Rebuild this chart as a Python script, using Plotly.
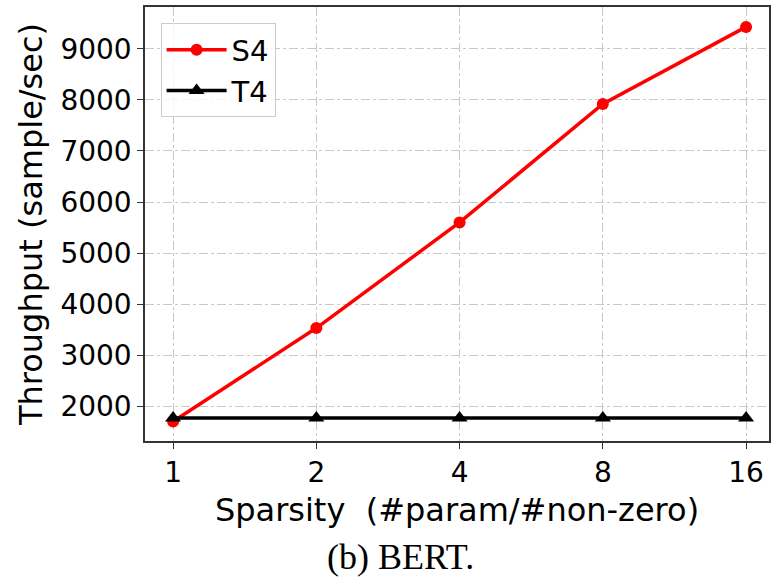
import plotly.graph_objects as go

sparsity = ["1", "2", "4", "8", "16"]
s4 = [1700, 3530, 5600, 7920, 9430]
t4 = [1770, 1770, 1770, 1770, 1770]
y_ticks = [2000, 3000, 4000, 5000, 6000, 7000, 8000, 9000]

xi = list(range(len(sparsity)))

fig = go.Figure()
fig.add_trace(go.Scatter(x=xi, y=s4, name="S4", mode="lines+markers",
                         line=dict(color="#ff0000", width=3.5),
                         marker=dict(symbol="circle", size=12, color="#ff0000")))
fig.add_trace(go.Scatter(x=xi, y=t4, name="T4", mode="lines+markers",
                         line=dict(color="#000000", width=3.5),
                         marker=dict(symbol="triangle-up", size=14, color="#000000")))

font = "DejaVu Sans"
fig.update_layout(
    width=776, height=580,
    margin=dict(l=145, r=7, t=5, b=139),
    paper_bgcolor="white", plot_bgcolor="white",
    font=dict(family=font, color="black", size=28),
    showlegend=True,
    legend=dict(x=0.025, y=0.962, xanchor="left", yanchor="top",
                bgcolor="rgba(255,255,255,0.8)", bordercolor="#cccccc", borderwidth=1,
                font=dict(size=29, family=font), itemwidth=60, tracegroupgap=0,
                entrywidth=135, entrywidthmode="pixels"),
    xaxis=dict(range=[-0.196, 4.16], tickmode="array", tickvals=xi, ticktext=sparsity,
               showgrid=True, gridcolor="#c8c8c8", griddash="dashdot", gridwidth=1,
               showline=True, linecolor="#333333", linewidth=1.5, mirror=True,
               ticks="outside", ticklen=6, tickcolor="#333333", zeroline=False,
               tickfont=dict(size=28),
               title=dict(text="Sparsity  (#param/#non-zero)", font=dict(size=32), standoff=10)),
    yaxis=dict(range=[1318, 9820], tickmode="array", tickvals=y_ticks,
               showgrid=True, gridcolor="#c8c8c8", griddash="dashdot", gridwidth=1,
               showline=True, linecolor="#333333", linewidth=1.5, mirror=True,
               ticks="outside", ticklen=6, tickcolor="#333333", zeroline=False,
               tickfont=dict(size=28),
               title=dict(text="Throughput (sample/sec)", font=dict(size=32), standoff=8)),
)
fig.add_annotation(text="(b) BERT.", xref="paper", yref="paper", x=0.41, y=-0.268,
                   xanchor="center", yanchor="middle", showarrow=False,
                   font=dict(family="Liberation Serif", size=36, color="black"))
fig.write_html("out.html")
